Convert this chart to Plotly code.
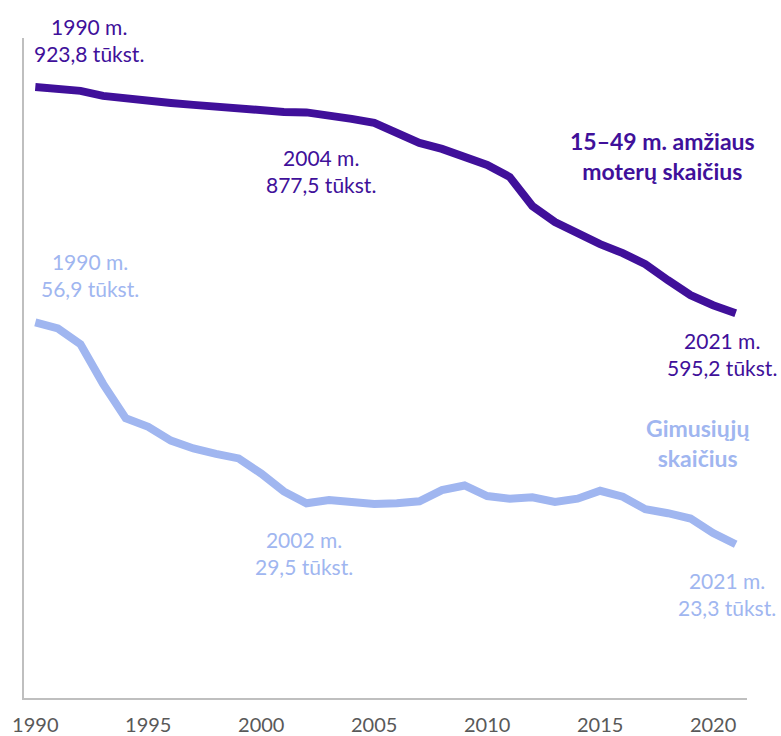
"""Women aged 15-49 vs. births in Lithuania, 1990-2021 (thousands)."""

import plotly.graph_objects as go

years = list(range(1990, 2022))
women = [923.8, 921.1, 918.2, 910.9, 906.6, 905.1, 900.7, 897.8, 894.9, 892.0,
         887.6, 887.6, 886.9, 883.3, 877.5, 871.6, 858.5, 842.5, 833.8, 823.6,
         810.5, 793.0, 750.8, 727.5, 710.0, 695.5, 682.4, 666.4, 643.1, 621.3,
         606.7, 595.2]
births = [56.9, 56.0, 53.6, 47.6, 42.4, 41.1, 39.0, 37.8, 37.0, 36.3,
          34.0, 31.3, 29.5, 30.0, 29.7, 29.4, 29.5, 29.8, 31.5, 32.2,
          30.6, 30.2, 30.4, 29.7, 30.2, 31.4, 30.5, 28.6, 28.0, 27.2,
          25.0, 23.3]
x_ticks = [1990, 1995, 2000, 2005, 2010, 2015, 2020]

PURPLE = "#40109A"
LIGHT = "#A0B6F0"
FONT = "Lato, 'Open Sans', sans-serif"

W, H = 781, 748
# plot area in page pixels
L, R, T, B = 23, 747, 38, 708


def px(x, y):
    return (x - L) / (R - L), (B - y) / (B - T)


fig = go.Figure()
fig.add_trace(go.Scatter(x=years, y=women, mode="lines", name="moterys",
                         line=dict(color=PURPLE, width=8)))
fig.add_trace(go.Scatter(x=years, y=births, mode="lines", name="gimusieji", yaxis="y2",
                         line=dict(color=LIGHT, width=8)))

labels = [
    (88, 40, "1990 m.<br>923,8 tūkst.", PURPLE, False),
    (320, 173, "2004 m.<br>877,5 tūkst.", PURPLE, False),
    (662, 158, "15–49 m. amžiaus<br>moterų skaičius", PURPLE, True),
    (722, 359, "2021 m.<br>595,2 tūkst.", PURPLE, False),
    (89, 279, "1990 m.<br>56,9 tūkst.", LIGHT, False),
    (303, 561, "2002 m.<br>29,5 tūkst.", LIGHT, False),
    (697, 449, "Gimusiųjų<br>skaičius", LIGHT, True),
    (727, 602, "2021 m.<br>23,3 tūkst.", LIGHT, False),
]
for x, y, text, color, bold in labels:
    xp, yp = px(x, y)
    fig.add_annotation(x=xp, y=yp, xref="paper", yref="paper", showarrow=False,
                       text=f"<b>{text}</b>" if bold else text,
                       xanchor="center", yanchor="middle",
                       font=dict(family=FONT, size=23 if bold else 21, color=color))

fig.update_layout(
    width=W, height=H,
    margin=dict(l=L, r=W - R, t=T, b=H - B),
    paper_bgcolor="white", plot_bgcolor="white",
    showlegend=False,
    font=dict(family=FONT),
    xaxis=dict(range=[1989.5, 2021.5], tickvals=x_ticks, showgrid=False, zeroline=False,
               showline=True, linecolor="#BFBFBF", linewidth=2, ticks="",
               ticklabelstandoff=8, tickfont=dict(size=20, color="#595959")),
    yaxis=dict(range=[36, 995], showgrid=False, zeroline=False, showticklabels=False,
               showline=True, linecolor="#BFBFBF", linewidth=2, ticks=""),
    yaxis2=dict(range=[0, 100], overlaying="y", side="right", showgrid=False,
                zeroline=False, showticklabels=False, showline=False, ticks=""),
)

# drop the default body margin and scrollbars so the figure fills the window exactly
fig.write_html(
    "out.html",
    config={"displayModeBar": False, "responsive": False},
    post_script="document.documentElement.style.overflow = 'hidden';"
                "document.body.style.margin = '0';"
                "document.body.style.overflow = 'hidden';",
)
